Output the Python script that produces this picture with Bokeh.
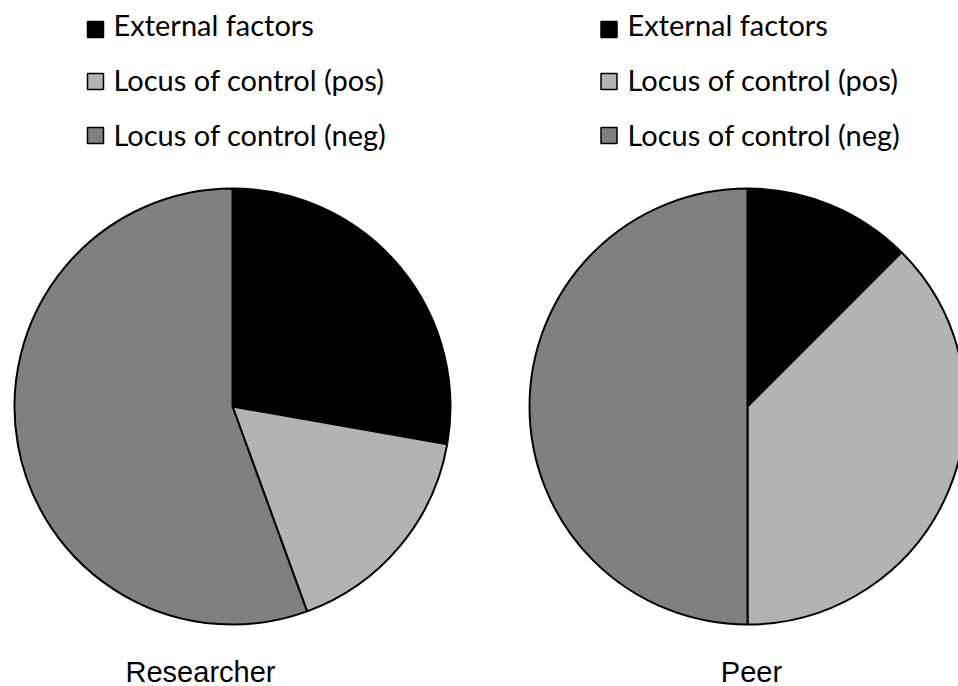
import math
from bokeh.plotting import figure
from bokeh.models import Range1d, ColumnDataSource
from bokeh.core.properties import value
from bokeh.embed import file_html
from bokeh.resources import INLINE

# ---- data ----
categories = ["External factors", "Locus of control (pos)", "Locus of control (neg)"]
colors = ["#000000", "#b3b3b3", "#808080"]
researcher_values = [5, 3, 10]
peer_values = [1, 3, 4]
pie_titles = ["Researcher", "Peer"]

W, H = 958, 686
p = figure(width=W, height=H, output_backend="svg", toolbar_location=None,
           x_range=Range1d(0, W), y_range=Range1d(0, H), min_border=0)
p.axis.visible = False
p.grid.visible = False
p.outline_line_color = None
p.background_fill_color = "white"
p.border_fill_color = "white"

def sy(screen_y):
    # convert picture pixel y into data y
    return H - screen_y

def sx(screen_x):
    return screen_x

radius = 218
centers = [(sx(232), sy(406)), (sx(747), sy(406))]

for (cx, cy), vals in zip(centers, [researcher_values, peer_values]):
    total = float(sum(vals))
    starts, ends = [], []
    acc = 0.0
    for v in vals:
        a = acc / total
        acc += v
        b = acc / total
        starts.append(math.pi / 2 - 2 * math.pi * a)
        ends.append(math.pi / 2 - 2 * math.pi * b)
    src = ColumnDataSource(dict(x=[cx] * len(vals), y=[cy] * len(vals),
                                start=starts, end=ends, color=colors))
    p.wedge(x="x", y="y", radius=radius, start_angle="start", end_angle="end",
            direction="clock", fill_color="color", line_color="black",
            line_width=2, source=src)

# ---- legends ----
legend_square_x = [sx(95), sx(608.5)]
legend_text_x = [sx(113), sx(627)]
square_y = [29, 81, 135]
text_base_y = [24, 79, 134]
for lx, tx in zip(legend_square_x, legend_text_x):
    p.rect(x=[lx] * 3, y=[sy(v) for v in square_y], width=16, height=16,
           fill_color=colors, line_color="black", line_width=1.5)
    p.text(x=[tx] * 3, y=[sy(v) for v in text_base_y], text=categories,
           text_font=value("Lato"), text_font_size="29px",
           text_baseline="alphabetic", text_align="left", text_color="black")

# ---- titles ----
title_x = [sx(200), sx(751)]
p.text(x=title_x, y=[sy(671)] * 2, text=pie_titles,
       text_font=value("Liberation Sans"), text_font_size="29px",
       text_baseline="alphabetic", text_align="center", text_color="black")

open("out.html", "w").write(file_html(p, INLINE))
